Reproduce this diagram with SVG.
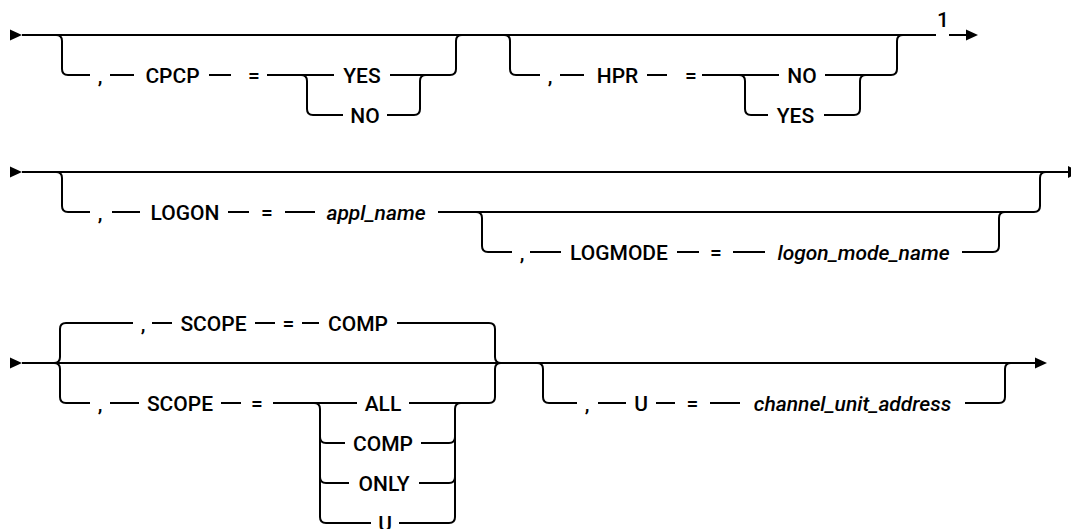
<svg xmlns="http://www.w3.org/2000/svg" width="1071" height="529" viewBox="0 0 1071 529">
<defs>
<style>
.ln{fill:none;stroke:#000;stroke-width:2;stroke-linecap:butt}
.ah{fill:#000;stroke:none}
.t{font-family:Roboto,"Liberation Sans",sans-serif;font-size:21px;font-weight:500;fill:#000;text-anchor:middle}
.i{font-style:italic}
</style>
</defs>
<rect width="1071" height="529" fill="#fff"/>
<g id="connectors">
<!-- Row 1 -->
<path class="ah" d="M10,29.5 L22,35 L10,40.5 Z"/>
<path class="ln" d="M22,35 H936 M949,35 H967"/>
<path class="ah" d="M966,29.5 L978,35 L966,40.5 Z"/>
<path class="ln" d="M56,35 Q62,35 62,41 V69 Q62,75 68,75 H90 M110,75 H134 M209,75 H231 M267,75 H334 M390,75 H450 Q456,75 456,69 V41 Q456,35 462,35"/>
<path class="ln" d="M301,75 Q307,75 307,81 V109 Q307,115 313,115 H343 M387,115 H414 Q420,115 420,109 V81 Q420,75 426,75"/>
<path class="ln" d="M504,35 Q510,35 510,41 V69 Q510,75 516,75 H540 M560,75 H584 M647,75 H667 M702,75 H779 M825,75 H891 Q897,75 897,69 V41 Q897,35 903,35"/>
<path class="ln" d="M739,75 Q745,75 745,81 V109 Q745,115 751,115 H768 M824,115 H854 Q860,115 860,109 V81 Q860,75 866,75"/>
<!-- Row 2 -->
<path class="ah" d="M10,166.5 L22,172 L10,177.5 Z"/>
<path class="ln" d="M22,172 H1069"/>
<path class="ah" d="M1068,166 L1080,172 L1068,178 Z"/>
<path class="ln" d="M56,172 Q62,172 62,178 V206 Q62,212 68,212 H90 M112,212 H140 M228,212 H249 M285,212 H315 M438,212 H1034 Q1040,212 1040,206 V178 Q1040,172 1046,172"/>
<path class="ln" d="M476,212 Q482,212 482,218 V246 Q482,252 488,252 H512 M530,252 H561 M677,252 H699 M733,252 H765 M962,252 H993 Q999,252 999,246 V218 Q999,212 1005,212"/>
<!-- Row 3 -->
<path class="ah" d="M10,357.5 L22,363 L10,368.5 Z"/>
<path class="ln" d="M22,363 H1035"/>
<path class="ah" d="M1035,357.5 L1047,363 L1035,368.5 Z"/>
<path class="ln" d="M54,363 Q60,363 60,357 V329 Q60,323 66,323 H133 M152,323 H172 M255,323 H275 M302,323 H319 M397,323 H489 Q495,323 495,329 V357 Q495,363 501,363"/>
<path class="ln" d="M54,363 Q60,363 60,369 V397 Q60,403 66,403 H90 M110,403 H139 M221,403 H241 M273,403 H357 M409,403 H489 Q495,403 495,397 V369 Q495,363 501,363"/>
<path class="ln" d="M314,403 Q320,403 320,409 V517 Q320,523 326,523 H371 M399,523 H449 Q455,523 455,517 V409 Q455,403 461,403"/>
<path class="ln" d="M320,437 Q320,443 326,443 H345 M421,443 H449 Q455,443 455,437 M320,477 Q320,483 326,483 H349 M419,483 H449 Q455,483 455,477"/>
<path class="ln" d="M537,363 Q543,363 543,369 V397 Q543,403 549,403 H577 M598,403 H626 M656,403 H675 M710,403 H740 M965,403 H999 Q1005,403 1005,397 V369 Q1005,363 1011,363"/>
</g>
<g id="n-cpcp-comma"><text class="t" x="100" y="83">,</text></g>
<g id="n-cpcp"><text class="t" x="172.5" y="83">CPCP</text></g>
<g id="n-cpcp-eq"><text class="t" x="254" y="83">=</text></g>
<g id="n-cpcp-yes"><text class="t" x="362" y="83">YES</text></g>
<g id="n-cpcp-no"><text class="t" x="365" y="123">NO</text></g>
<g id="n-hpr-comma"><text class="t" x="550" y="83">,</text></g>
<g id="n-hpr"><text class="t" x="617.5" y="83">HPR</text></g>
<g id="n-hpr-eq"><text class="t" x="691" y="83">=</text></g>
<g id="n-hpr-no"><text class="t" x="802" y="83">NO</text></g>
<g id="n-hpr-yes"><text class="t" x="795.5" y="123">YES</text></g>
<g id="n-note1"><text class="t" x="943" y="27">1</text></g>
<g id="n-logon-comma"><text class="t" x="100" y="220">,</text></g>
<g id="n-logon"><text class="t" x="185" y="220">LOGON</text></g>
<g id="n-logon-eq"><text class="t" x="267" y="220">=</text></g>
<g id="n-appl"><text class="t i" x="376" y="220">appl_name</text></g>
<g id="n-logmode-comma"><text class="t" x="522" y="260">,</text></g>
<g id="n-logmode"><text class="t" x="619" y="260">LOGMODE</text></g>
<g id="n-logmode-eq"><text class="t" x="716" y="260">=</text></g>
<g id="n-logonmode"><text class="t i" x="863.5" y="260">logon_mode_name</text></g>
<g id="n-scope-def-comma"><text class="t" x="143" y="331">,</text></g>
<g id="n-scope-def"><text class="t" x="213.5" y="331">SCOPE</text></g>
<g id="n-scope-def-eq"><text class="t" x="288.5" y="331">=</text></g>
<g id="n-scope-def-comp"><text class="t" x="358" y="331">COMP</text></g>
<g id="n-scope-comma"><text class="t" x="100" y="411">,</text></g>
<g id="n-scope"><text class="t" x="180" y="411">SCOPE</text></g>
<g id="n-scope-eq"><text class="t" x="257" y="411">=</text></g>
<g id="n-scope-all"><text class="t" x="383" y="411">ALL</text></g>
<g id="n-scope-comp"><text class="t" x="383" y="451">COMP</text></g>
<g id="n-scope-only"><text class="t" x="384" y="491">ONLY</text></g>
<g id="n-scope-u"><text class="t" x="385" y="531">U</text></g>
<g id="n-u-comma"><text class="t" x="587" y="411">,</text></g>
<g id="n-u"><text class="t" x="641" y="411">U</text></g>
<g id="n-u-eq"><text class="t" x="692.5" y="411">=</text></g>
<g id="n-channel"><text class="t i" x="852.5" y="411">channel_unit_address</text></g>
</svg>
